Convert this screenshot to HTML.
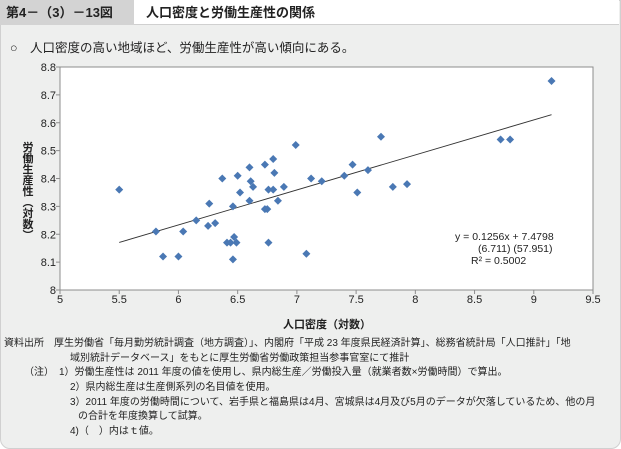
<!DOCTYPE html>
<html><head><meta charset="utf-8">
<style>
body{margin:0;width:621px;height:449px;background:#fff;font-family:"Liberation Sans","Noto Sans CJK JP",sans-serif;overflow:hidden}
#panel{position:absolute;left:0;top:0;width:619px;height:447px;background:#eeefee;border:1px solid #d0d0d0;border-radius:0 0 10px 10px}
#tab{position:absolute;left:0;top:0;width:134px;height:25px;background:#d3d3d3;font-size:13px;line-height:25px;padding-left:6px;box-sizing:border-box;font-weight:bold;color:#222}
#title{position:absolute;left:134px;top:0;width:485px;height:25px;background:#fff;font-size:13px;line-height:25px;padding-left:12px;box-sizing:border-box;font-weight:bold;color:#222;border-bottom:1px solid #d0d0d0}
#sub{position:absolute;left:10px;top:37px;font-size:12.5px;color:#222}
.note{position:absolute;font-size:10px;color:#222;white-space:nowrap}
</style></head><body>
<div id="panel"></div>
<div id="tab">第4－（3）－13図</div>
<div id="title">人口密度と労働生産性の関係</div>
<div id="sub">○　人口密度の高い地域ほど、労働生産性が高い傾向にある。</div>
<svg id="chart" width="621" height="449" style="position:absolute;left:0;top:0"></svg>
<div class="note" style="left:4px;top:334px">資料出所　厚生労働省「毎月勤労統計調査（地方調査）」、内閣府「平成 23 年度県民経済計算」、総務省統計局「人口推計」「地</div>
<div class="note" style="left:70px;top:349px">域別統計データベース」をもとに厚生労働省労働政策担当参事官室にて推計</div>
<div class="note" style="left:24px;top:363px">（注）　1）労働生産性は 2011 年度の値を使用し、県内総生産／労働投入量（就業者数×労働時間）で算出。</div>
<div class="note" style="left:70px;top:378px">2）県内総生産は生産側系列の名目値を使用。</div>
<div class="note" style="left:70px;top:393px">3）2011 年度の労働時間について、岩手県と福島県は4月、宮城県は4月及び5月のデータが欠落しているため、他の月</div>
<div class="note" style="left:78px;top:407px">の合計を年度換算して試算。</div>
<div class="note" style="left:70px;top:422px">4)（　）内はｔ値。</div>
<script>
const xVals=[5.50,5.81,5.87,6.00,6.04,6.15,6.25,6.26,6.31,6.37,6.41,6.44,6.46,6.46,6.47,6.49,6.50,6.52,6.60,6.60,6.61,6.63,6.73,6.73,6.75,6.76,6.76,6.80,6.80,6.81,6.84,6.89,6.99,7.08,7.12,7.21,7.40,7.47,7.51,7.60,7.71,7.81,7.93,8.72,8.80,9.15];
const yVals=[8.36,8.21,8.12,8.12,8.21,8.25,8.23,8.31,8.24,8.40,8.17,8.17,8.11,8.30,8.19,8.17,8.41,8.35,8.32,8.44,8.39,8.37,8.45,8.29,8.29,8.17,8.36,8.47,8.36,8.42,8.32,8.37,8.52,8.13,8.40,8.39,8.41,8.45,8.35,8.43,8.55,8.37,8.38,8.54,8.54,8.75];
const xTicks=[5,5.5,6,6.5,7,7.5,8,8.5,9,9.5];
const yTicks=[8,8.1,8.2,8.3,8.4,8.5,8.6,8.7,8.8];
const slope=[0.1256], intercept=[7.4798];
const L=60,R=593,T=67,B=290;
const sx=v=>L+(v-5)/4.5*(R-L), sy=v=>B-(v-8)/0.8*(B-T);
const svg=document.getElementById('chart'),NS='http://www.w3.org/2000/svg';
function mk(t,a,txt){const e=document.createElementNS(NS,t);for(const k in a)e.setAttribute(k,a[k]);if(txt!==undefined)e.textContent=txt;svg.appendChild(e);return e;}
let e=mk('rect',{x:L,y:T,width:R-L,height:B-T,fill:'#fff',stroke:'#8c8c8c','stroke-width':1});


yTicks.forEach(v=>{const y=sy(v);
 e=mk('line',{x1:L-4,x2:L,y1:y,y2:y,stroke:'#8c8c8c'});
 
 
 e=mk('text',{x:L-4,y:y+4,'text-anchor':'end','font-size':11,fill:'#222'},String(v));
 
 });
xTicks.forEach(v=>{const x=sx(v);
 e=mk('line',{x1:x,x2:x,y1:B,y2:B+4,stroke:'#8c8c8c'});
 
 
 e=mk('text',{x:x,y:B+13,'text-anchor':'middle','font-size':11,fill:'#222'},String(v));
 
 });
e=mk('line',{x1:sx(5.5),y1:sy(slope[0]*5.5+intercept[0]),x2:sx(9.15),y2:sy(slope[0]*9.15+intercept[0]),stroke:'#333','stroke-width':0.9});


xVals.forEach((v,i)=>{const x=sx(v),y=sy(yVals[i]);
 e=mk('path',{d:`M${x} ${y-4}L${x+4} ${y}L${x} ${y+4}L${x-4} ${y}Z`,fill:'#4a78b4'});
 
 });
e=mk('text',{x:455,y:240,'font-size':10.5,fill:'#222'},'y = 0.1256x + 7.4798');


e=mk('text',{x:478,y:252,'font-size':10.5,fill:'#222'},'(6.711)    (57.951)');


e=mk('text',{x:471,y:264,'font-size':10.5,fill:'#222'},'R² = 0.5002');


e=mk('text',{x:327,y:328,'text-anchor':'middle','font-size':11,fill:'#222','font-weight':'bold'},'人口密度（対数）');


e=mk('text',{x:0,y:0,'text-anchor':'middle','font-size':11,fill:'#222','font-weight':'bold','writing-mode':'tb',transform:'translate(27,191)','glyph-orientation-vertical':0},'労働生産性（対数）');


</script>
</body></html>
